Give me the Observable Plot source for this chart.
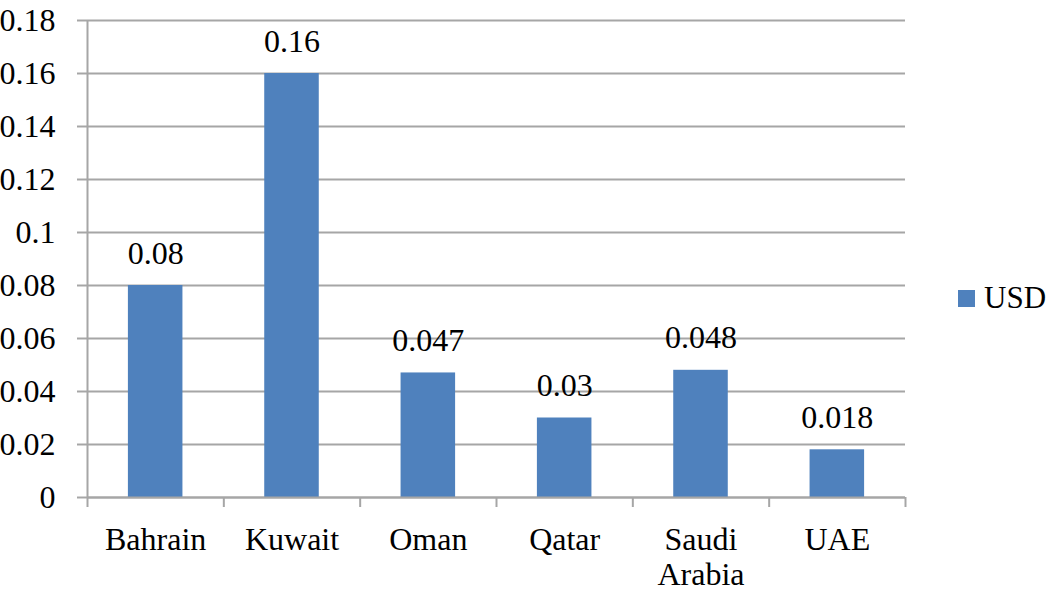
<!DOCTYPE html>
<html>
<head>
<meta charset="utf-8">
<script src="https://cdn.jsdelivr.net/npm/d3@7"></script>
<script src="https://cdn.jsdelivr.net/npm/@observablehq/plot@0.6"></script>
</head>
<body style="margin:0;padding:0;background:#fff">
<div id="wrap" style="position:relative;width:1050px;height:596px">
  <div id="legend" style="position:absolute;left:958px;top:280px;display:flex;align-items:center;font-family:'Liberation Serif';font-size:31px;color:#000">
    <div style="width:17px;height:17px;background:#4f81bd;margin-right:9px"></div><span id="legendText"></span>
  </div>
</div>
<script>
const categories = ["Bahrain", "Kuwait", "Oman", "Qatar", "Saudi\nArabia", "UAE"];
const values = [0.08, 0.16, 0.047, 0.03, 0.048, 0.018];
const valueLabels = ["0.08", "0.16", "0.047", "0.03", "0.048", "0.018"];
const yTicks = [0, 0.02, 0.04, 0.06, 0.08, 0.1, 0.12, 0.14, 0.16, 0.18];
const seriesName = "USD";

const data = categories.map((c, i) => ({i, category: c, value: values[i], label: valueLabels[i]}));
const gap = 0.3; // gap on each side of a bar, in category units
const grid = "#a6a6a6";
const font = "Liberation Serif";
const fs = 32;

const chart = Plot.plot({
  width: 1050,
  height: 596,
  marginLeft: 87,
  marginRight: 145,
  marginTop: 20,
  marginBottom: 99,
  style: {fontFamily: font, fontSize: fs + "px", color: "#000", background: "#fff"},
  x: {type: "linear", domain: [0, categories.length], axis: null},
  y: {domain: [0, 0.18], axis: null},
  marks: [
    Plot.gridY(yTicks, {stroke: grid, strokeOpacity: 1, strokeWidth: 2}),
    Plot.axisY(yTicks, {tickSize: 10, stroke: grid, strokeWidth: 2, tickPadding: 22, label: null,
      tickFormat: d => String(+d.toFixed(2)), fontSize: fs, fontFamily: font, fill: "#000"}),
    Plot.ruleX([0], {y1: 0, y2: 0.18, stroke: grid, strokeWidth: 2}),
    Plot.rectY(data, {x1: d => d.i + gap, x2: d => d.i + 1 - gap, y1: 0, y2: "value", fill: "#4f81bd"}),
    Plot.ruleY([0], {stroke: grid, strokeWidth: 2}),
    Plot.axisX(d3.range(categories.length + 1), {tickSize: 10, stroke: grid, strokeWidth: 2, label: null, tickFormat: () => ""}),
    Plot.axisX(data.map(d => d.i + 0.5), {tickSize: 0, tickPadding: 27, lineHeight: 1.1, label: null,
      tickFormat: d => categories[Math.floor(d)], fontSize: fs, fontFamily: font, fill: "#000", textAnchor: "middle"}),
    Plot.text(data, {x: d => d.i + 0.5, y: "value", text: "label", dy: -22, lineAnchor: "bottom",
      fontSize: fs, fontFamily: font, fill: "#000"})
  ]
});
chart.querySelectorAll("text").forEach(t => { t.setAttribute("font-family", font); t.style.fontFamily = "'" + font + "'"; });
document.getElementById("legendText").textContent = seriesName;
document.getElementById("wrap").prepend(chart);
</script>
</body>
</html>
